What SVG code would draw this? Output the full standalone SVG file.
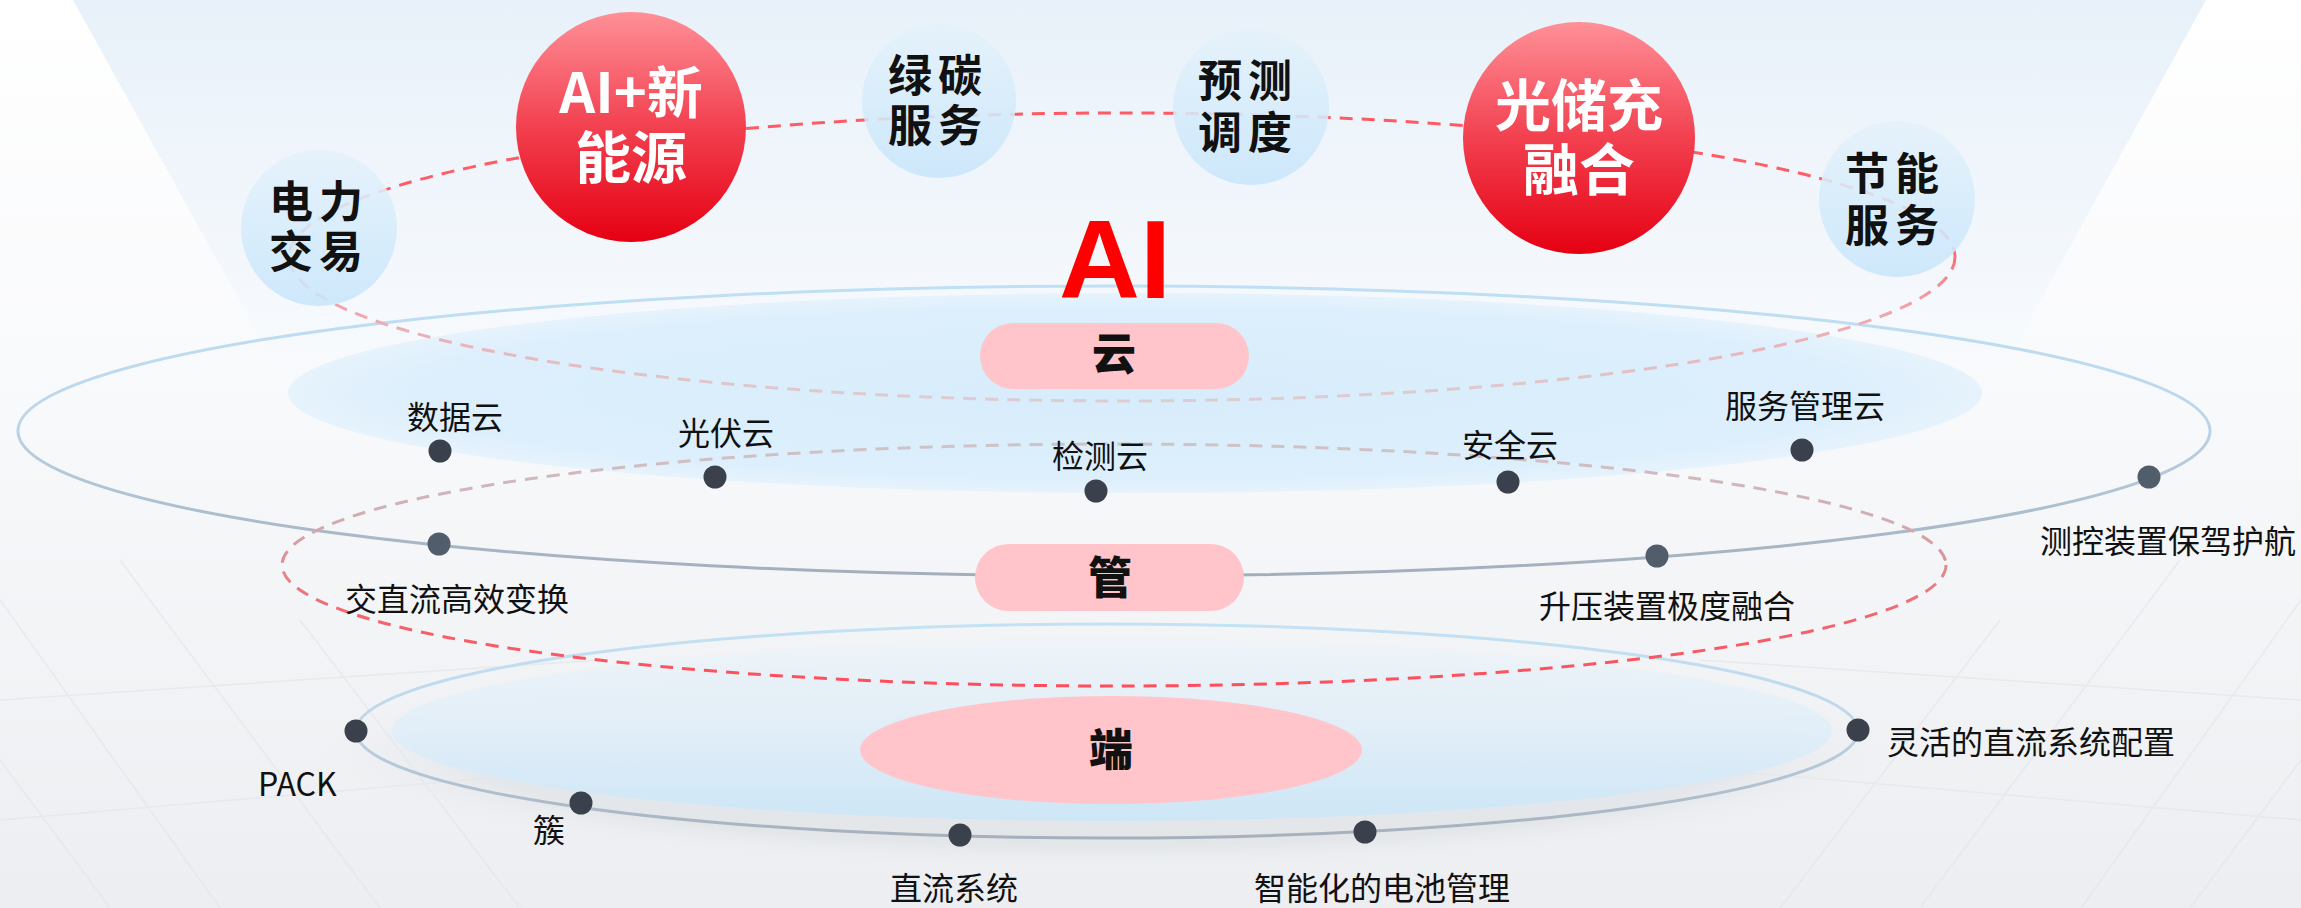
<svg xmlns="http://www.w3.org/2000/svg" width="2301" height="908" viewBox="0 0 2301 908">
<defs>
<style>
.lbl{font-family:'Noto Sans CJK SC','Noto Sans',sans-serif;font-size:32px;fill:#111;}
.cir{font-family:'Noto Sans CJK SC','Noto Sans',sans-serif;font-size:44px;font-weight:700;fill:#111;letter-spacing:6px;text-anchor:middle;}
.red{font-family:'Noto Sans CJK SC','Noto Sans',sans-serif;font-size:56px;font-weight:700;fill:#fff;text-anchor:middle;}
.pill{font-family:'Noto Sans CJK SC','Noto Sans',sans-serif;font-size:44px;font-weight:900;fill:#111;text-anchor:middle;}
.dot{fill:#3a414d;}
.dot2{fill:#525d6c;}
.dash{fill:none;stroke-width:3;stroke-dasharray:13 9;}
.grid{stroke:#e3e6ea;stroke-width:1.5;fill:none;opacity:0.7;}
</style>
<linearGradient id="bg" x1="0" y1="0" x2="0" y2="1">
<stop offset="0" stop-color="#ffffff"/><stop offset="0.45" stop-color="#f8f9fb"/><stop offset="1" stop-color="#eceef1"/>
</linearGradient>
<linearGradient id="trap" x1="0" y1="0" x2="0" y2="1">
<stop offset="0" stop-color="#e8f1f9"/><stop offset="1" stop-color="#f8fafd"/>
</linearGradient>
<linearGradient id="light" x1="0" y1="0" x2="0" y2="1">
<stop offset="0" stop-color="#e5f2fb"/><stop offset="1" stop-color="#c8e6fb"/>
</linearGradient>
<linearGradient id="redg" x1="0" y1="0" x2="0" y2="1">
<stop offset="0" stop-color="#ff9098"/><stop offset="0.5" stop-color="#f2404f"/><stop offset="1" stop-color="#e50012"/>
</linearGradient>
<linearGradient id="cloudRing" gradientUnits="userSpaceOnUse" x1="0" y1="286" x2="0" y2="576">
<stop offset="0" stop-color="#bfe0f4"/><stop offset="0.45" stop-color="#bcd6ea"/><stop offset="1" stop-color="#a3aebb"/>
</linearGradient>
<linearGradient id="botRing" gradientUnits="userSpaceOnUse" x1="0" y1="624" x2="0" y2="838">
<stop offset="0" stop-color="#c3e2f5"/><stop offset="0.45" stop-color="#bed6e8"/><stop offset="1" stop-color="#a6b0bc"/>
</linearGradient>
<radialGradient id="cloudDisk" cx="0.5" cy="0.5" r="0.5">
<stop offset="0" stop-color="#d7ecfb"/><stop offset="0.85" stop-color="#ddeffc"/><stop offset="1" stop-color="#e6f3fc"/>
</radialGradient>
<linearGradient id="botDisk" x1="0" y1="0" x2="0" y2="1">
<stop offset="0" stop-color="#eef4f9"/><stop offset="0.5" stop-color="#e1eef8"/><stop offset="1" stop-color="#cce6f7"/>
</linearGradient>
<radialGradient id="shadow" cx="0.5" cy="0.5" r="0.5">
<stop offset="0.8" stop-color="#dfe2e6" stop-opacity="0.7"/><stop offset="1" stop-color="#eceef1" stop-opacity="0"/>
</radialGradient>
<linearGradient id="dashUp" gradientUnits="userSpaceOnUse" x1="0" y1="113" x2="0" y2="401">
<stop offset="0" stop-color="#ff5a63"/><stop offset="0.45" stop-color="#ff6169"/><stop offset="0.68" stop-color="#f0a5ac"/><stop offset="1" stop-color="#dccdd2"/>
</linearGradient>
<linearGradient id="dashLow" gradientUnits="userSpaceOnUse" x1="0" y1="444" x2="0" y2="686">
<stop offset="0" stop-color="#cfc3c8"/><stop offset="0.35" stop-color="#d2a9ae"/><stop offset="0.7" stop-color="#f2666f"/><stop offset="1" stop-color="#ff4d5a"/>
</linearGradient>
</defs>

<g id="background">
<rect width="2301" height="908" fill="url(#bg)"/>
<polygon points="73,0 2206,0 2001,372 279,372" fill="url(#trap)"/>
<path class="grid" d="M0,600 L220,908 M120,560 L380,908 M0,760 L110,908 M300,620 L520,908 M2301,600 L2081,908 M2180,560 L1920,908 M2301,760 L2190,908 M2000,620 L1780,908 M0,700 L600,660 M0,820 L700,760 M1700,660 L2301,700 M1600,760 L2301,820"/>
</g>

<g id="layer-end">
<ellipse cx="1107" cy="752" rx="790" ry="118" fill="url(#shadow)"/>
<ellipse cx="1112" cy="731" rx="720" ry="90" fill="url(#botDisk)" opacity="0.95"/>
<ellipse cx="1107" cy="731" rx="751" ry="107" fill="none" stroke="url(#botRing)" stroke-width="3"/>
</g>

<g id="layer-cloud">
<ellipse cx="1135" cy="393" rx="847" ry="100" fill="url(#cloudDisk)"/>
<ellipse cx="1114" cy="431" rx="1096" ry="145" fill="none" stroke="url(#cloudRing)" stroke-width="3"/>
</g>

<g id="connectors">
<ellipse class="dash" cx="1122" cy="257" rx="833" ry="144" stroke="url(#dashUp)"/>
<ellipse class="dash" cx="1114" cy="565" rx="832" ry="121" stroke="url(#dashLow)"/>
</g>

<g id="node-yun">
<rect x="980" y="323" width="269" height="66" rx="33" fill="#ffc5cb"/>
<text class="pill" x="1114" y="370">云</text>
</g>
<g id="node-guan">
<rect x="975" y="544" width="269" height="67" rx="33.5" fill="#ffc5cb"/>
<text class="pill" x="1110" y="594">管</text>
</g>
<g id="node-duan">
<ellipse cx="1111" cy="750" rx="251" ry="54" fill="#ffc5cb"/>
<text class="pill" x="1111" y="766">端</text>
</g>

<g id="node-dianli">
<circle cx="319" cy="228" r="78" fill="url(#light)" opacity="0.88"/>
<text class="cir"><tspan x="319" y="218">电力</tspan><tspan x="319" y="268">交易</tspan></text>
</g>
<g id="node-ai-new-energy">
<circle cx="631" cy="127" r="115" fill="url(#redg)"/>
<text class="red"><tspan x="631" y="113">AI+新</tspan><tspan x="631" y="178">能源</tspan></text>
</g>
<g id="node-lvtan">
<circle cx="939" cy="101" r="77" fill="url(#light)" opacity="0.88"/>
<text class="cir"><tspan x="938" y="92">绿碳</tspan><tspan x="938" y="142">服务</tspan></text>
</g>
<g id="node-yuce">
<circle cx="1251" cy="107" r="78" fill="url(#light)" opacity="0.88"/>
<text class="cir"><tspan x="1248" y="97">预测</tspan><tspan x="1248" y="149">调度</tspan></text>
</g>
<g id="node-guangchu">
<circle cx="1579" cy="138" r="116" fill="url(#redg)"/>
<text class="red"><tspan x="1579" y="126">光储充</tspan><tspan x="1579" y="190">融合</tspan></text>
</g>
<g id="node-jieneng">
<circle cx="1897" cy="199" r="78" fill="url(#light)" opacity="0.88"/>
<text class="cir"><tspan x="1895" y="190">节能</tspan><tspan x="1895" y="242">服务</tspan></text>
</g>

<g id="node-cloud-items">
<circle class="dot" cx="440" cy="451" r="11.5"/><text class="lbl" x="455" y="429" text-anchor="middle">数据云</text>
<circle class="dot" cx="715" cy="477" r="11.5"/><text class="lbl" x="726" y="445" text-anchor="middle">光伏云</text>
<circle class="dot" cx="1096" cy="491" r="11.5"/><text class="lbl" x="1100" y="468" text-anchor="middle">检测云</text>
<circle class="dot" cx="1508" cy="482" r="11.5"/><text class="lbl" x="1510" y="457" text-anchor="middle">安全云</text>
<circle class="dot" cx="1802" cy="450" r="11.5"/><text class="lbl" x="1805" y="418" text-anchor="middle">服务管理云</text>
</g>
<g id="node-pipe-items">
<circle class="dot2" cx="2149" cy="477" r="11.5"/><text class="lbl" x="2168" y="553" text-anchor="middle">测控装置保驾护航</text>
<circle class="dot2" cx="439" cy="544" r="11.5"/><text class="lbl" x="345" y="611">交直流高效变换</text>
<circle class="dot2" cx="1657" cy="556" r="11.5"/><text class="lbl" x="1539" y="618">升压装置极度融合</text>
</g>
<g id="node-end-items">
<circle class="dot" cx="356" cy="731" r="11.5"/><text class="lbl" x="258" y="796">PACK</text>
<circle class="dot" cx="581" cy="803" r="11.5"/><text class="lbl" x="533" y="842">簇</text>
<circle class="dot" cx="960" cy="835" r="11.5"/><text class="lbl" x="954" y="900" text-anchor="middle">直流系统</text>
<circle class="dot" cx="1365" cy="832" r="11.5"/><text class="lbl" x="1254" y="900">智能化的电池管理</text>
<circle class="dot" cx="1858" cy="730" r="11.5"/><text class="lbl" x="1887" y="754">灵活的直流系统配置</text>
</g>

<g id="title-ai">
<text x="1115" y="298" text-anchor="middle" font-family="'Liberation Sans',Arial,sans-serif" font-weight="700" font-size="112" fill="#ff0000">AI</text>
</g>
</svg>
